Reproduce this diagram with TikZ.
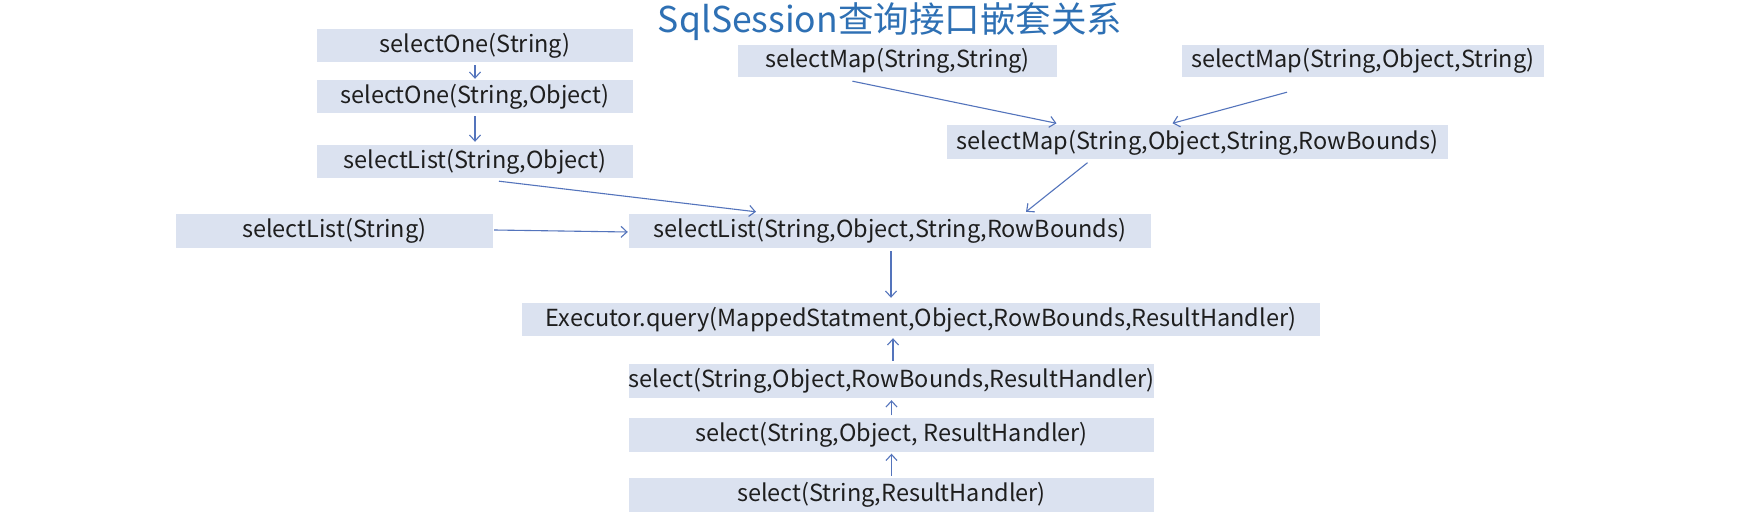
\documentclass[tikz,border=0pt]{standalone}
\usepackage{fontspec}
\setmainfont{Noto Sans CJK SC}
\usetikzlibrary{arrows.meta,calc}
\definecolor{boxfill}{RGB}{219,226,240}
\definecolor{arrcol}{RGB}{84,116,188}
\definecolor{titlecol}{RGB}{46,112,180}
\definecolor{txtcol}{RGB}{30,30,30}
\tikzset{
  mbox/.style={fill=boxfill, inner sep=0pt, minimum height=33pt, text=txtcol, font=\fontsize{23.5}{26}\selectfont},
  arr/.style={draw=arrcol, line width=1.1pt, -{Straight Barb[length=6pt,width=11pt]}},
}
\begin{document}
\begin{tikzpicture}[x=1pt,y=-1pt]
\useasboundingbox[fill=white] (0,0) rectangle (1757,529);
\node[text=titlecol, font=\fontsize{35.5}{38}\selectfont, inner sep=0pt] (title) at (890,22) {SqlSession查询接口嵌套关系};
\node[mbox, minimum width=316pt] (one1) at (475,45.5) {selectOne(String)};
\node[mbox, minimum width=316pt] (one2) at (475,96.5) {selectOne(String,Object)};
\node[mbox, minimum width=316pt] (list2) at (475,161.5) {selectList(String,Object)};
\node[mbox, minimum width=319pt, minimum height=32pt] (map2) at (897.5,61) {selectMap(String,String)};
\node[mbox, minimum width=362pt, minimum height=32pt] (map3) at (1363,61) {selectMap(String,Object,String)};
\node[mbox, minimum width=501pt, minimum height=34pt] (map4) at (1197.5,142.5) {selectMap(String,Object,String,RowBounds)};
\node[mbox, minimum width=317pt, minimum height=34pt] (list1) at (334.5,231) {selectList(String)};
\node[mbox, minimum width=522pt, minimum height=34pt] (list4) at (890,231) {selectList(String,Object,String,RowBounds)};
\node[mbox, minimum width=798pt] (exec) at (921,319.5) {Executor.query(MappedStatment,Object,RowBounds,ResultHandler)};
\node[mbox, minimum width=525pt, minimum height=34pt] (sel4) at (891.5,381) {select(String,Object,RowBounds,ResultHandler)};
\node[mbox, minimum width=525pt, minimum height=34pt] (sel3) at (891.5,434.5) {select(String,Object, ResultHandler)};
\node[mbox, minimum width=525pt, minimum height=34pt] (sel2) at (891.5,495) {select(String,ResultHandler)};
\draw[arr] ([yshift=-3pt]one1.south) -- ([yshift=1pt]one2.north);
\draw[arr] ([yshift=-3pt]one2.south) -- ([yshift=3pt]list2.north);
\draw[arr] ([xshift=24pt,yshift=-3pt]list2.south) -- ([xshift=-134pt,yshift=2pt]list4.north);
\draw[arr] ([xshift=1pt,yshift=1pt]list1.east) -- ([xshift=-1pt,yshift=-1pt]list4.west);
\draw[arr] ([xshift=-45pt,yshift=-4pt]map2.south) -- ([xshift=-141pt,yshift=2pt]map4.north);
\draw[arr] ([xshift=-76pt,yshift=-15pt]map3.south) -- ([xshift=-25pt,yshift=2pt]map4.north);
\draw[arr] ([xshift=-110pt,yshift=-3pt]map4.south) -- ([xshift=136pt,yshift=2pt]list4.north);
\draw[arr] ([xshift=1pt,yshift=-3pt]list4.south) -- ([xshift=-30pt,yshift=5pt]exec.north);
\draw[arr] ([xshift=1.5pt,yshift=3pt]sel4.north) -- ([xshift=-28pt,yshift=-2pt]exec.south);
\draw[arr] ([yshift=2pt]sel3.north) -- ([yshift=-2pt]sel4.south);
\draw[arr] ([yshift=2pt]sel2.north) -- ([yshift=-2pt]sel3.south);
\end{tikzpicture}
\end{document}
